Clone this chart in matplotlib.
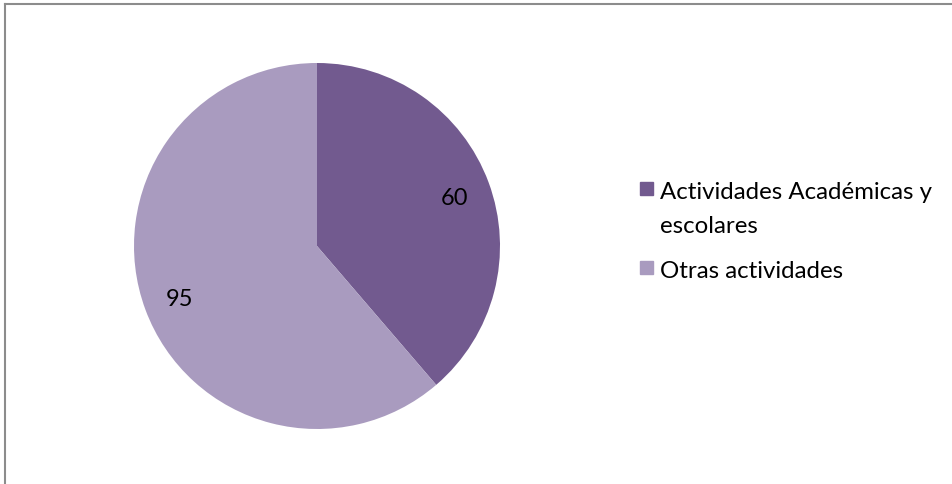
import matplotlib.pyplot as plt
from matplotlib.patches import Rectangle

plt.rcParams['font.family'] = ['Lato', 'DejaVu Sans']

# Data
labels = ['Actividades Académicas y\nescolares', 'Otras actividades']
values = [60, 95]
colors = ['#725a8f', '#a99bbf']

W, H = 953, 485
fig = plt.figure(figsize=(W / 100, H / 100), dpi=100)

# pie centre (317, 247) px, radius 183 px
cx, cy, r = 317, 247, 183
ax = fig.add_axes([(cx - r) / W, (H - cy - r) / H, 2 * r / W, 2 * r / H])
ax.pie(values, colors=colors, startangle=90, counterclock=False,
       labels=[str(v) for v in values], labeldistance=0.8,
       textprops={'fontsize': 17, 'color': '#000000'},
       wedgeprops={'linewidth': 0})
for t in ax.texts:
    t.set_horizontalalignment('center')
    t.set_verticalalignment('center_baseline')
ax.set_xlim(-1, 1)
ax.set_ylim(-1, 1)
ax.set_aspect('equal')
ax.axis('off')

# chart border (top and left only visible)
fig.add_artist(plt.Line2D([5 / W, 1], [1 - 5 / H, 1 - 5 / H], color='#8c8c8c', lw=1.5))
fig.add_artist(plt.Line2D([5 / W, 5 / W], [0, 1 - 5 / H], color='#8c8c8c', lw=1.5))

# legend
baselines = [199, 278]
for lab, col, y in zip(labels, colors, baselines):
    fig.add_artist(Rectangle((640 / W, 1 - (y - 3) / H), 13 / W, 13 / H,
                             color=col, transform=fig.transFigure))
    lines = lab.split('\n')
    for i, line in enumerate(lines):
        fig.text(660 / W, 1 - (y + 34 * i) / H, line, fontsize=17.3,
                 va='baseline', ha='left')

fig.savefig('out.png', dpi=100)
